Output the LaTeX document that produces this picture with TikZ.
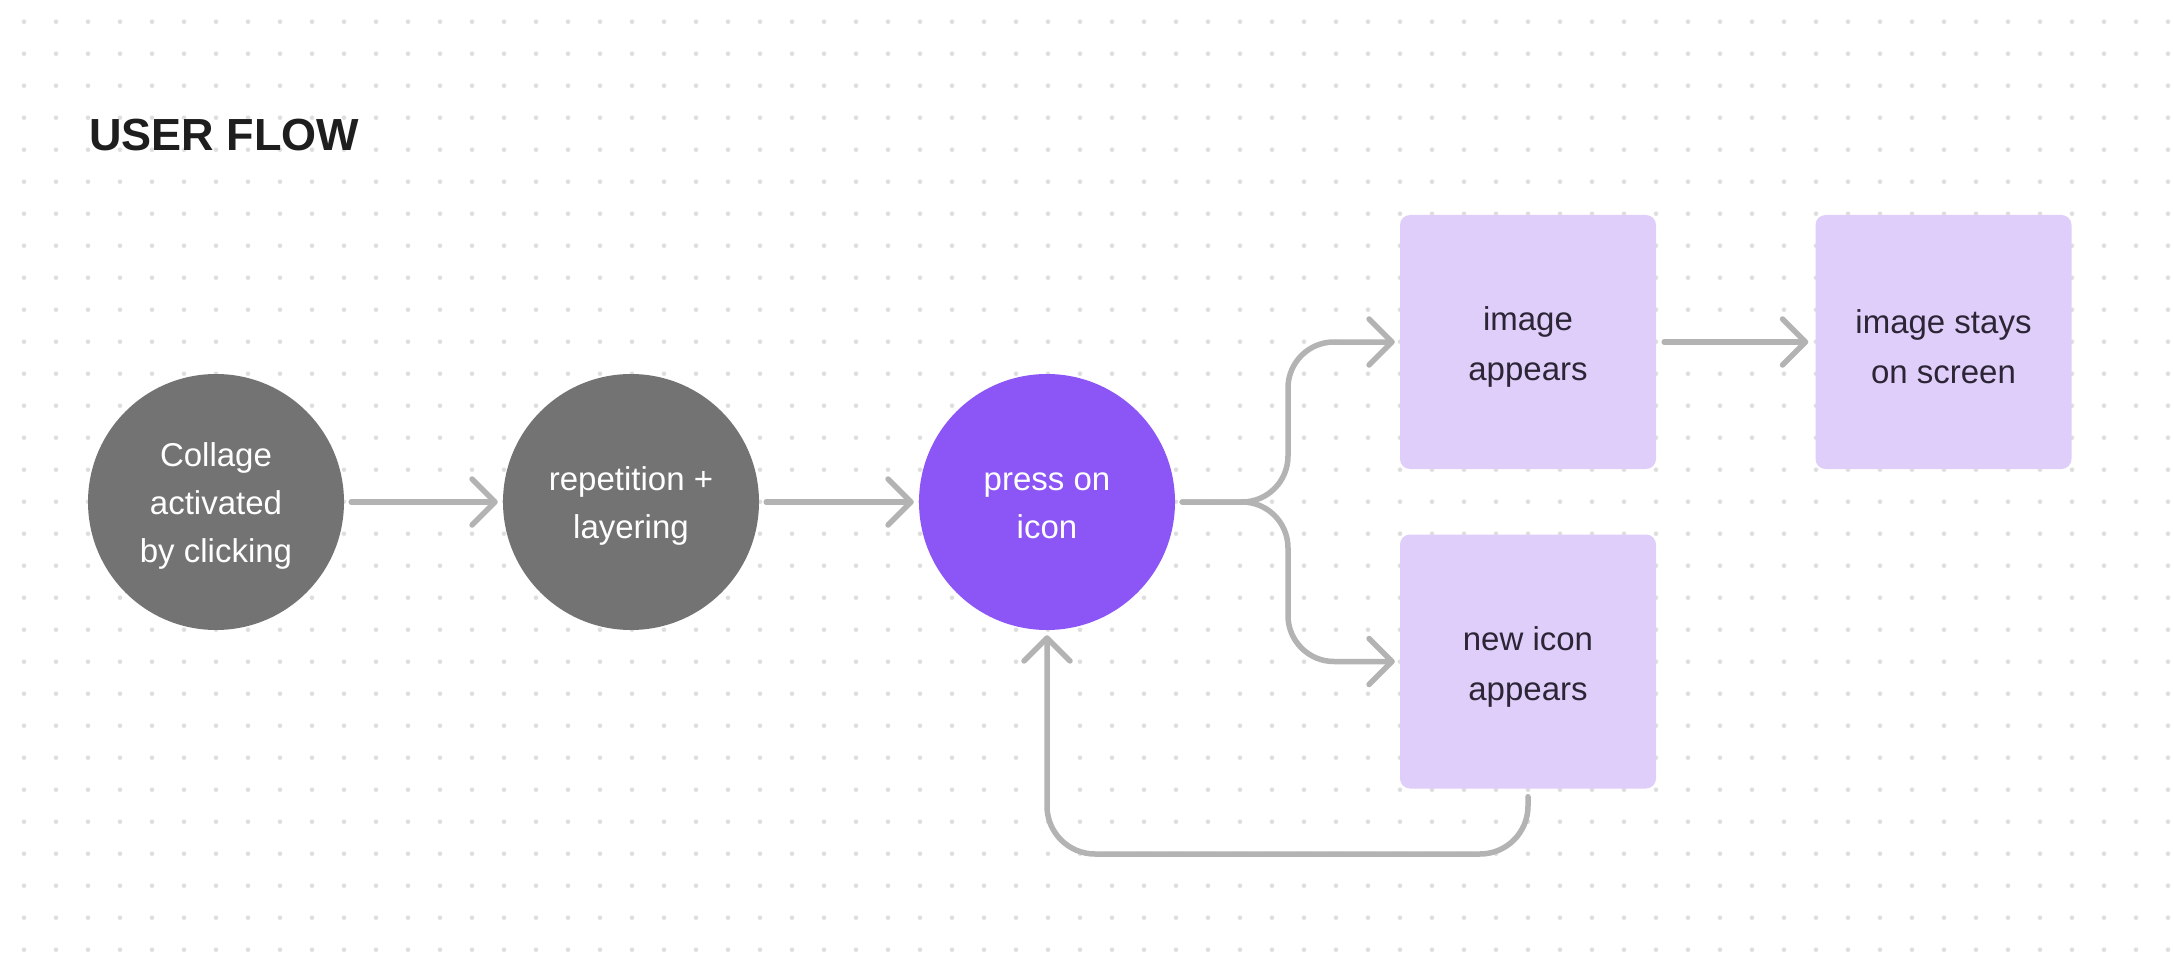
\documentclass[tikz,border=0pt]{standalone}
\usepackage{fontspec}
\setmainfont{Liberation Sans}
\usetikzlibrary{arrows.meta,calc}
\definecolor{dotc}{HTML}{DEDEDE}
\definecolor{graycirc}{HTML}{737373}
\definecolor{purplecirc}{HTML}{8C55F6}
\definecolor{lavbox}{HTML}{E0CEFA}
\definecolor{boxtext}{HTML}{2B2536}
\definecolor{arrc}{HTML}{B3B3B3}
\definecolor{titlec}{HTML}{1E1E1E}
\tikzset{
  circnode/.style={circle, minimum size=256pt, inner sep=0pt},
  circtext/.style={text=white, align=center, inner sep=0pt, yshift=-4pt,
    font=\fontsize{33}{48}\selectfont},
  boxnode/.style={rectangle, rounded corners=10pt, fill=lavbox, minimum width=256pt,
    minimum height=254pt, inner sep=0pt},
  boxtextstyle/.style={text=boxtext, align=center, inner sep=0pt, yshift=-5pt,
    font=\fontsize{33}{50}\selectfont},
  flow/.style={draw=arrc, line width=5.5pt, line cap=round, line join=round,
    -{Straight Barb[length=23pt,width=46pt,round]}}
}
\begin{document}
\begin{tikzpicture}[x=1pt,y=-1pt]
\useasboundingbox (0,0) rectangle (2174,976);
\fill[white] (0,0) rectangle (2174,976);
\foreach \i in {0,...,67}{
  \foreach \j in {0,...,29}{
    \fill[dotc] (24+32*\i,21.7+32*\j) circle[radius=2.3pt];
  }
}
\node[anchor=base west, inner sep=0pt, text=titlec, font=\fontsize{45}{50}\selectfont\bfseries] (title) at (89,150.7) {USER FLOW};

\node[circnode, fill=graycirc, label={[circtext]center:{Collage\\activated\\by clicking}}] (c1) at (216,502) {};
\node[circnode, fill=graycirc, label={[circtext]center:{repetition +\\layering}}] (c2) at (631,502) {};
\node[circnode, fill=purplecirc, label={[circtext]center:{press on\\icon}}] (c3) at (1047,502) {};

\node[boxnode, label={[boxtextstyle]center:{image\\appears}}] (b1) at (1528,342) {};
\node[boxnode, label={[boxtextstyle]center:{image stays\\on screen}}] (b2) at (1943.5,342) {};
\node[boxnode, label={[boxtextstyle]center:{new icon\\appears}}] (b3) at (1528,661.5) {};

\coordinate (fork) at (1288,502);
\coordinate (loopy) at (0,854);

\draw[flow] ([xshift=7pt]c1.east) -- ([xshift=-5pt]c2.west);
\draw[flow] ([xshift=7pt]c2.east) -- ([xshift=-5pt]c3.west);
\draw[flow, rounded corners=46pt] ([xshift=7pt]c3.east) -- (fork) |- ([xshift=-5pt]b1.west);
\draw[flow, rounded corners=46pt] ([xshift=7pt]c3.east) -- (fork) |- ([xshift=-5pt]b3.west);
\draw[flow] ([xshift=8pt]b1.east) -- ([xshift=-7pt]b2.west);
\draw[flow, rounded corners=48pt] ([yshift=-8pt]b3.south) |- (c3.south |- loopy) -- ([yshift=-5pt]c3.south);
\end{tikzpicture}
\end{document}
